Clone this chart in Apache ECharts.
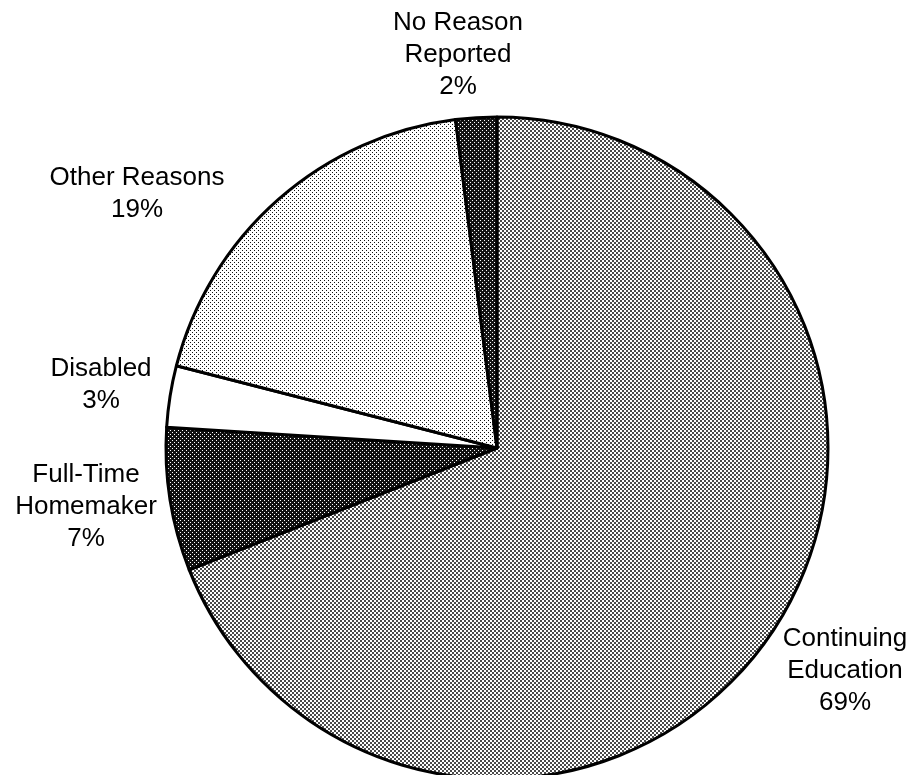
<!DOCTYPE html>
<html>
<head>
<meta charset="utf-8">
<script src="https://cdn.jsdelivr.net/npm/echarts@6/dist/echarts.min.js"></script>
<style>
html,body{margin:0;padding:0;background:#fff;}
#chart{width:913px;height:775px;}
</style>
</head>
<body>
<div id="chart"></div>
<script>
// Data
var categories = ['Continuing\nEducation', 'Full-Time\nHomemaker', 'Disabled', 'Other Reasons', 'No Reason\nReported'];
var percents = [69, 7, 3, 19, 2];

// Halftone-like patterns
function makePattern(bg, fg, dots, size) {
  var c = document.createElement('canvas');
  c.width = size; c.height = size;
  var ctx = c.getContext('2d');
  ctx.fillStyle = bg; ctx.fillRect(0, 0, size, size);
  ctx.fillStyle = fg;
  dots.forEach(function (d) { ctx.fillRect(d[0], d[1], d[2], d[3]); });
  return { image: c, repeat: 'repeat' };
}
var fills = [
  makePattern('#ffffff', '#4a4a4a', [[0,0,2,2],[2,2,2,2]], 4),          // medium dotted
  makePattern('#111111', '#ffffff', [[0,0,1,1],[2,2,1,1]], 4),          // dark w/ white dots
  '#ffffff',                                                             // white
  makePattern('#ffffff', '#111111', [[0,0,1,1],[2,2,1,1]], 4),          // light dots
  makePattern('#151515', '#ffffff', [[0,0,1,1],[2,2,1,1]], 4)           // dark
];
// label anchor points (block centres)
var labelPos = [[845, 671], [86, 507], [101, 385], [137, 194], [458, 55]];

var chart = echarts.init(document.getElementById('chart'), null, { renderer: 'canvas' });
chart.setOption({
  animation: false,
  backgroundColor: '#ffffff',
  series: [{
    type: 'pie',
    center: [497, 448],
    radius: 331,
    startAngle: 90,
    clockwise: true,
    avoidLabelOverlap: false,
    silent: true,
    data: categories.map(function (n, i) {
      return { name: n, value: percents[i], itemStyle: { color: fills[i] } };
    }),
    itemStyle: { borderColor: '#000', borderWidth: 3 },
    label: {
      show: true,
      position: 'outside',
      formatter: function (p) { return p.name + '\n' + p.value + '%'; },
      color: '#000',
      fontFamily: 'Liberation Sans, Arial, sans-serif',
      fontSize: 26,
      lineHeight: 32,
      align: 'center'
    },
    labelLine: { show: false },
    labelLayout: function (params) {
      var p = labelPos[params.dataIndex];
      return { x: p[0], y: p[1], align: 'center', verticalAlign: 'middle', moveOverlap: null };
    },
    emphasis: { disabled: true }
  }]
});
</script>
</body>
</html>
